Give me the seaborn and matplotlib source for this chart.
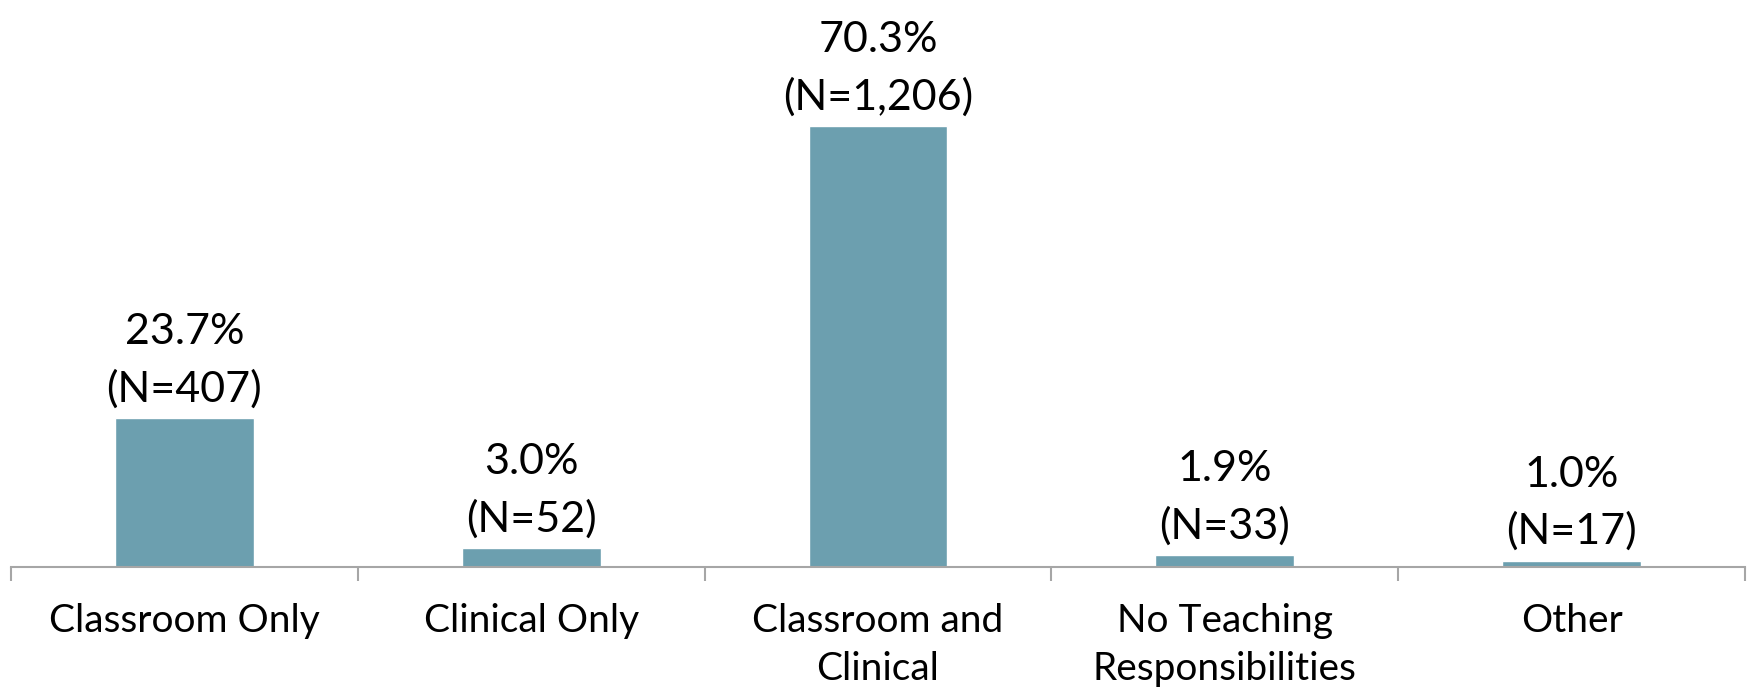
import matplotlib
matplotlib.use("Agg")
import matplotlib.pyplot as plt
import seaborn as sns
import pandas as pd

# Chart data
categories = ["Classroom Only", "Clinical Only", "Classroom and\nClinical",
              "No Teaching\nResponsibilities", "Other"]
percents = [23.7, 3.0, 70.3, 1.9, 1.0]
counts = ["407", "52", "1,206", "33", "17"]

df = pd.DataFrame({"category": categories, "percent": percents})

sns.set_theme(style="white")
plt.rcParams['font.family'] = ['Lato', 'DejaVu Sans']

fig = plt.figure(figsize=(17.48, 6.96), dpi=100)
ax = fig.add_axes([11 / 1748, 129 / 696, 1734 / 1748, 567 / 696])

sns.barplot(data=df, x="category", y="percent", color="#6C9FAF",
            width=0.40, saturation=1, ax=ax)

# Value labels above bars
for i, (p, n) in enumerate(zip(percents, counts)):
    ax.annotate(f"{p:.1f}%\n(N={n})", xy=(i, p), xytext=(0, 7),
                textcoords="offset points", ha="center", va="bottom",
                fontsize=31, linespacing=1.55, color="black")

ax.set_ylim(0, 90.4)
ax.set_xlim(-0.5, 4.5)
ax.set_xlabel("")
ax.set_ylabel("")
ax.set_yticks([])

for s in ["top", "right", "left"]:
    ax.spines[s].set_visible(False)
ax.spines["bottom"].set_color("#A6A6A6")
ax.spines["bottom"].set_linewidth(1.5)

# boundary ticks between categories
ax.set_xticks([i - 0.5 for i in range(6)], minor=True)
ax.tick_params(axis="x", which="minor", bottom=True, length=10, width=1.5,
               color="#A6A6A6")
ax.tick_params(axis="x", which="major", bottom=False, length=0, pad=26,
               labelsize=28, labelcolor="black")
for lbl in ax.get_xticklabels():
    lbl.set_linespacing(1.4)

fig.savefig("out.png", dpi=100)
